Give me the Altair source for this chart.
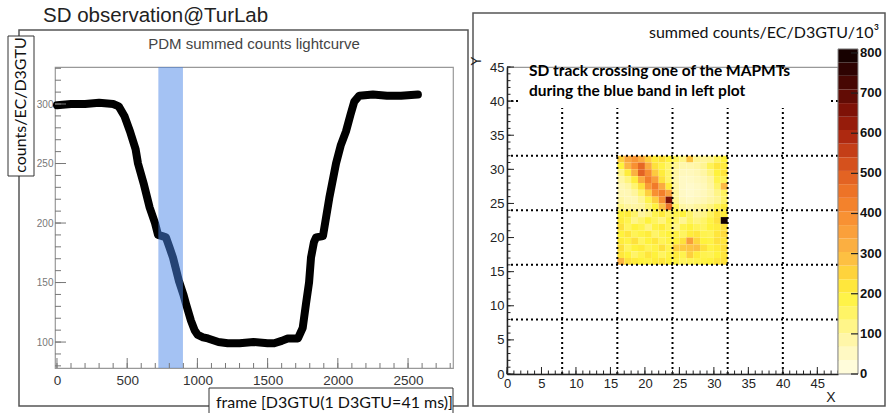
import altair as alt
import pandas as pd

# ---------------- left panel data ----------------
frames = [0, 100, 200, 300, 400, 440, 480, 520, 560, 577, 620, 660, 698, 720, 750,
          776, 800, 826, 850, 869, 900, 919, 954, 980, 1003, 1040, 1075, 1150, 1216, 1300,
          1400, 1500, 1547, 1600, 1643, 1716, 1750, 1773, 1795, 1809, 1830, 1845, 1894, 1939,
          1987, 2020, 2058, 2090, 2117, 2153, 2250, 2350, 2450, 2570]
counts = [299, 300, 300, 301, 300, 298, 290, 277, 262, 250, 232, 213, 200, 190, 189,
          188, 180, 171, 160, 151, 140, 132, 118, 110, 106, 104, 103, 100, 99, 99,
          100, 99, 99, 101, 103, 103, 112, 132, 150, 171, 184, 188, 189, 221,
          250, 265, 277, 291, 302, 307, 308, 307, 307, 308]
band_start = [722]
band_end = [897]

lx_labels = [0, 500, 1000, 1500, 2000, 2500]
lx_minor = list(range(0, 2801, 100))
ly_labels = [100, 150, 200, 250, 300]
ly_minor = list(range(80, 331, 10))

# ---------------- right panel data ----------------
heat_x = list(range(16, 32))
heat_y = [31, 30, 29, 28, 27, 26, 25, 24, 23, 22, 21, 20, 19, 18, 17, 16]
row31 = [260, 340, 380, 330, 260, 210, 230, 200, 160, 120, 280, 110, 100, 110, 160, 200]
row30 = [200, 310, 390, 480, 330, 230, 190, 150, 110, 80, 80, 90, 110, 170, 220, 210]
row29 = [120, 210, 320, 490, 400, 270, 210, 150, 90, 60, 60, 70, 90, 130, 200, 220]
row28 = [90, 130, 210, 330, 430, 360, 230, 150, 80, 50, 50, 60, 70, 100, 180, 170]
row27 = [70, 90, 140, 230, 370, 440, 330, 210, 90, 50, 40, 50, 60, 90, 150, 300]
row26 = [70, 70, 100, 150, 260, 390, 430, 350, 100, 50, 40, 50, 60, 80, 120, 160]
row25 = [90, 70, 70, 110, 180, 260, 390, 660, 110, 60, 50, 60, 70, 90, 110, 150]
row24 = [120, 100, 90, 100, 140, 200, 290, 460, 160, 90, 80, 100, 110, 130, 170, 210]
row23 = [200, 210, 150, 100, 120, 180, 210, 160, 180, 200, 150, 110, 120, 160, 220, 210]
row22 = [210, 180, 120, 150, 200, 160, 130, 190, 150, 110, 160, 130, 150, 190, 230, 800]
row21 = [230, 160, 200, 180, 130, 190, 210, 170, 120, 180, 200, 170, 160, 200, 210, 230]
row20 = [200, 220, 170, 190, 210, 150, 180, 200, 190, 160, 210, 220, 180, 170, 220, 240]
row19 = [210, 190, 230, 160, 200, 220, 170, 190, 200, 230, 360, 250, 200, 190, 230, 220]
row18 = [230, 160, 200, 210, 170, 190, 230, 180, 260, 270, 280, 290, 230, 190, 210, 230]
row17 = [220, 200, 150, 180, 220, 200, 160, 190, 210, 180, 260, 210, 180, 170, 200, 220]
row16 = [310, 230, 210, 200, 190, 210, 220, 200, 190, 160, 170, 180, 190, 200, 220, 230]
heat_rows = [row31, row30, row29, row28, row27, row26, row25, row24,
             row23, row22, row21, row20, row19, row18, row17, row16]

grid_lines = [8, 16, 24, 32, 40]
rx_labels = [0, 5, 10, 15, 20, 25, 30, 35, 40, 45]
rx_minor = list(range(0, 49))
ry_labels = [0, 5, 10, 15, 20, 25, 30, 35, 40, 45]
ry_minor = list(range(0, 46))

cb_edges = [0, 34, 68, 101, 135, 169, 203, 236, 270, 304, 338, 371, 405, 439, 473,
            506, 540, 574, 608, 641, 675, 709, 743, 776, 810]
cb_labels = [0, 100, 200, 300, 400, 500, 600, 700, 800]
cb_stops = [0, 50, 100, 150, 200, 250, 300, 350, 400, 450, 500, 550, 600, 650, 700, 750, 800]
cb_colors = ["#fffde6", "#fff9c4", "#fff59c", "#fff468", "#fff23c", "#fed53c", "#fcb944",
             "#faa23c", "#f78c30", "#ef7628", "#e05e22", "#c94218", "#a8240e", "#841408",
             "#5c0a04", "#340402", "#120000"]

# ---------------- helpers ----------------
one = pd.DataFrame({"k": [0]})
LAB = "Liberation Sans"
CAL = "Lato"

# ================= LEFT PANEL =================
W1, H1 = 398, 301
xs_l = alt.Scale(domain=[-14, 2820], nice=False, zero=False)
ys_l = alt.Scale(domain=[78.2, 331.1], nice=False, zero=False)
ax_lx = alt.Axis(values=lx_labels, title=None, ticks=False, tickSize=0, domain=False, grid=False,
                 labelFontSize=13.5, labelColor="#333", labelPadding=5, labelFont=LAB,
                 labelFlush=False, labelOverlap=False, format="d")
ax_ly = alt.Axis(values=ly_labels, title=None, ticks=False, tickSize=0, domain=False, grid=False,
                 labelFontSize=10, labelColor="#777", labelPadding=2, labelFont=LAB,
                 labelFlush=False, labelOverlap=False, format="d")

anchor = alt.Chart(one).mark_rect(color="white").encode(
    x=alt.value(-54), x2=alt.value(-53), y=alt.value(-66), y2=alt.value(-65))
left_box = alt.Chart(one).mark_rect(filled=False, stroke="#555", strokeWidth=1.5).encode(
    x=alt.value(-36), x2=alt.value(413), y=alt.value(-37), y2=alt.value(339))

curve_df = pd.DataFrame({"frame": frames, "counts": counts})
curve = alt.Chart(curve_df).mark_line(color="black", strokeWidth=8, strokeJoin="round",
                                      strokeCap="round").encode(
    x=alt.X("frame:Q", scale=xs_l, axis=ax_lx),
    y=alt.Y("counts:Q", scale=ys_l, axis=ax_ly))

band = alt.Chart(pd.DataFrame({"b0": band_start, "b1": band_end})).mark_rect(
    color="#4a86e8", opacity=0.5).encode(
    x=alt.X("b0:Q", scale=xs_l, axis=ax_lx), x2="b1:Q",
    y=alt.value(0), y2=alt.value(H1))

lx_ticks_min = alt.Chart(pd.DataFrame({"t": lx_minor})).mark_rule(color="#777", strokeWidth=1).encode(
    x=alt.X("t:Q", scale=xs_l, axis=ax_lx), y=alt.value(H1), y2=alt.value(H1 - 5))
lx_ticks_maj = alt.Chart(pd.DataFrame({"t": lx_labels})).mark_rule(color="#777", strokeWidth=1).encode(
    x=alt.X("t:Q", scale=xs_l, axis=ax_lx), y=alt.value(H1), y2=alt.value(H1 - 10))
ly_ticks_min = alt.Chart(pd.DataFrame({"t": ly_minor})).mark_rule(color="#777", strokeWidth=1).encode(
    y=alt.Y("t:Q", scale=ys_l, axis=ax_ly), x=alt.value(0), x2=alt.value(6))
ly_ticks_maj = alt.Chart(pd.DataFrame({"t": ly_labels})).mark_rule(color="#777", strokeWidth=1).encode(
    y=alt.Y("t:Q", scale=ys_l, axis=ax_ly), x=alt.value(0), x2=alt.value(11))

main_title = alt.Chart(one).mark_text(text="SD observation@TurLab", font=LAB, fontSize=20.5,
                                      color="#222", align="left", baseline="middle").encode(
    x=alt.value(-12), y=alt.value(-51))
sub_title = alt.Chart(one).mark_text(text="PDM summed counts lightcurve", font=LAB, fontSize=15,
                                     color="#444", align="center", baseline="middle").encode(
    x=alt.value(W1 / 2), y=alt.value(-23))

ytitle_box = alt.Chart(one).mark_rect(fill="white", stroke="#333", strokeWidth=1).encode(
    x=alt.value(-47), x2=alt.value(-21), y=alt.value(-31), y2=alt.value(109))
ytitle = alt.Chart(one).mark_text(text="counts/EC/D3GTU", font=CAL, fontSize=16, color="#111",
                                  angle=270, align="center", baseline="middle").encode(
    x=alt.value(-34), y=alt.value(38))
xtitle_box = alt.Chart(one).mark_rect(fill="white", stroke="#333", strokeWidth=1).encode(
    x=alt.value(154), x2=alt.value(398), y=alt.value(321), y2=alt.value(356))
xtitle = alt.Chart(one).mark_text(text="frame [D3GTU(1 D3GTU=41 ms)]", font=CAL, fontSize=16,
                                  color="#111", align="left", baseline="middle").encode(
    x=alt.value(161), y=alt.value(336))

left = alt.layer(anchor, left_box, curve, band, lx_ticks_min, lx_ticks_maj, ly_ticks_min,
                 ly_ticks_maj, main_title, sub_title, ytitle_box, ytitle, xtitle_box, xtitle
                 ).properties(width=W1, height=H1)

# ================= RIGHT PANEL =================
W2, H2 = 331, 307
xs_r = alt.Scale(domain=[0, 48], nice=False, zero=False)
ys_r = alt.Scale(domain=[0, 45], nice=False, zero=False)
cscale = alt.Scale(domain=cb_stops, range=cb_colors, interpolate="rgb")
cb_scale = alt.Scale(domain=[0, 765], nice=False, zero=False)

ax_rx = alt.Axis(values=rx_labels, title=None, ticks=False, tickSize=0, domain=True,
                 domainColor="#222", domainWidth=1.5, grid=False, labelFontSize=13,
                 labelColor="#222", labelPadding=3, labelFont=LAB, labelFlush=False,
                 labelOverlap=False)
ax_ry = alt.Axis(values=ry_labels, title=None, ticks=False, tickSize=0, domain=True,
                 domainColor="#222", domainWidth=1.5, grid=False, labelFontSize=13,
                 labelColor="#222", labelPadding=3, labelFont=LAB, labelFlush=False,
                 labelOverlap=False)

heat_recs = []
for yy, row in zip(heat_y, heat_rows):
    for xx, v in zip(heat_x, row):
        heat_recs.append({"x": xx, "x2": xx + 1, "y": yy, "y2": yy + 1, "v": v})
heat_df = pd.DataFrame(heat_recs)

right_box = alt.Chart(one).mark_rect(filled=False, stroke="#555", strokeWidth=1.5).encode(
    x=alt.value(-34), x2=alt.value(378), y=alt.value(-54), y2=alt.value(339))

heat = alt.Chart(heat_df).mark_rect().encode(
    x=alt.X("x:Q", scale=xs_r, axis=ax_rx), x2="x2:Q",
    y=alt.Y("y:Q", scale=ys_r, axis=ax_ry), y2="y2:Q",
    color=alt.Color("v:Q", scale=cscale, legend=None))

hgrid = alt.Chart(pd.DataFrame({"g": grid_lines})).mark_rule(
    color="black", strokeWidth=2, strokeDash=[2, 3]).encode(
    y=alt.Y("g:Q", scale=ys_r, axis=ax_ry))
vgrid = alt.Chart(pd.DataFrame({"g": grid_lines})).mark_rule(
    color="black", strokeWidth=2, strokeDash=[2, 3]).encode(
    x=alt.X("g:Q", scale=xs_r, axis=ax_rx))

note_box = alt.Chart(one).mark_rect(color="white").encode(
    x=alt.value(14), x2=alt.value(322), y=alt.value(3), y2=alt.value(41))
note1 = alt.Chart(one).mark_text(text="SD track crossing one of the MAPMTs", font=CAL,
                                 fontSize=15.5, fontWeight="bold", color="black",
                                 align="left", baseline="middle").encode(
    x=alt.value(22), y=alt.value(4))
note2 = alt.Chart(one).mark_text(text="during the blue band in left plot", font=CAL,
                                 fontSize=15.5, fontWeight="bold", color="black",
                                 align="left", baseline="middle").encode(
    x=alt.value(22), y=alt.value(24))

rx_t_min = alt.Chart(pd.DataFrame({"t": rx_minor})).mark_rule(color="#222", strokeWidth=1).encode(
    x=alt.X("t:Q", scale=xs_r, axis=ax_rx), y=alt.value(H2), y2=alt.value(H2 - 3.5))
rx_t_maj = alt.Chart(pd.DataFrame({"t": rx_labels})).mark_rule(color="#222", strokeWidth=1).encode(
    x=alt.X("t:Q", scale=xs_r, axis=ax_rx), y=alt.value(H2), y2=alt.value(H2 - 7))
ry_t_min = alt.Chart(pd.DataFrame({"t": ry_minor})).mark_rule(color="#222", strokeWidth=1).encode(
    y=alt.Y("t:Q", scale=ys_r, axis=ax_ry), x=alt.value(0), x2=alt.value(3.5))
ry_t_maj = alt.Chart(pd.DataFrame({"t": ry_labels})).mark_rule(color="#222", strokeWidth=1).encode(
    y=alt.Y("t:Q", scale=ys_r, axis=ax_ry), x=alt.value(0), x2=alt.value(7))

xlab = alt.Chart(one).mark_text(text="X", font=LAB, fontSize=14, color="#222",
                                align="center", baseline="middle").encode(
    x=alt.value(324), y=alt.value(331))
ylab = alt.Chart(one).mark_text(text="Y", font=LAB, fontSize=14, color="#222", angle=270,
                                align="center", baseline="middle").encode(
    x=alt.value(-30), y=alt.value(-6))
rtitle = alt.Chart(one).mark_text(text="summed counts/EC/D3GTU/10³", font=CAL, fontSize=16,
                                  color="#111", align="right", baseline="middle").encode(
    x=alt.value(372), y=alt.value(-34))

main_right = alt.layer(right_box, heat, hgrid, vgrid, note_box, note1, note2,
                       rx_t_min, rx_t_maj, ry_t_min, ry_t_maj, xlab, ylab, rtitle)

# colour bar, drawn through the same colour scale, with its own vertical scale
cb_df = pd.DataFrame({"lo": cb_edges[:-1], "hi": cb_edges[1:],
                      "mid": [(a + b) / 2 for a, b in zip(cb_edges[:-1], cb_edges[1:])]})
cb_rects = alt.Chart(cb_df).mark_rect().encode(
    x=alt.value(W2), x2=alt.value(W2 + 20),
    y=alt.Y("lo:Q", scale=cb_scale, axis=None), y2="hi:Q",
    color=alt.Color("mid:Q", scale=cscale, legend=None))
cb_frame = alt.Chart(pd.DataFrame({"lo": [cb_edges[0]], "hi": [cb_edges[-1]]})).mark_rect(
    filled=False, stroke="#888", strokeWidth=1).encode(
    x=alt.value(W2), x2=alt.value(W2 + 20),
    y=alt.Y("lo:Q", scale=cb_scale, axis=None), y2="hi:Q")
cb_lab_df = pd.DataFrame({"t": cb_labels, "lab": [str(v) for v in cb_labels]})
cb_ticks = alt.Chart(cb_lab_df).mark_rule(color="#222", strokeWidth=1.2).encode(
    x=alt.value(W2 + 13), x2=alt.value(W2 + 20),
    y=alt.Y("t:Q", scale=cb_scale, axis=None))
cb_text = alt.Chart(cb_lab_df).mark_text(font=LAB, fontSize=13, fontWeight="bold", color="#111",
                                         align="left", baseline="middle").encode(
    x=alt.value(W2 + 22), y=alt.Y("t:Q", scale=cb_scale, axis=None), text="lab:N")
colorbar = alt.layer(cb_rects, cb_frame, cb_ticks, cb_text)

right = alt.layer(main_right, colorbar).resolve_scale(y="independent").properties(
    width=W2, height=H2)

chart = alt.hconcat(left, right, spacing=54, bounds="flush", padding=0).configure_view(
    stroke="#999", strokeWidth=1.2).configure_axis(grid=False)

chart.save("out.html", embed_options={"renderer": "svg", "actions": False})
